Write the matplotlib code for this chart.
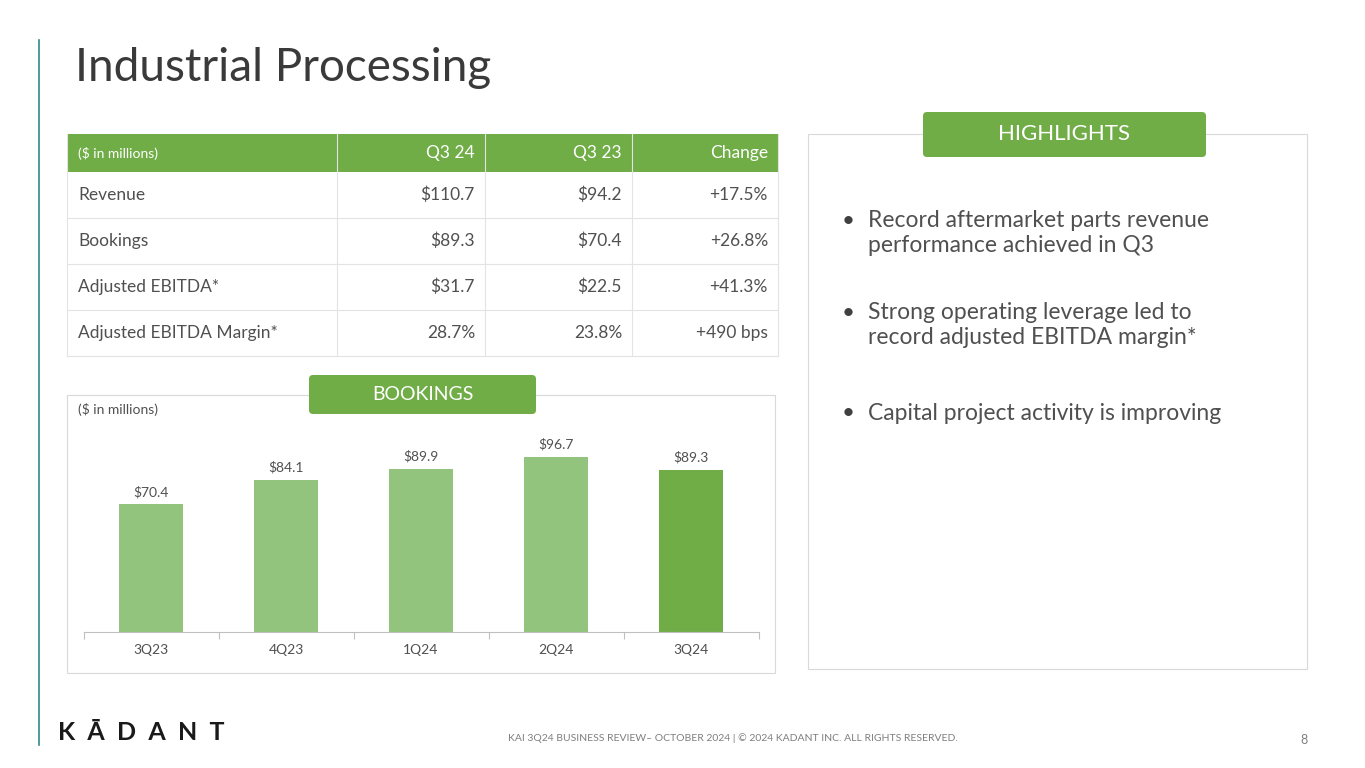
import matplotlib
matplotlib.use("Agg")
import matplotlib.pyplot as plt
from matplotlib.patches import Rectangle, FancyBboxPatch

plt.rcParams['font.family'] = ['Lato', 'DejaVu Sans']

quarters = ["3Q23", "4Q23", "1Q24", "2Q24", "3Q24"]
bookings = [70.4, 84.1, 89.9, 96.7, 89.3]
bar_colors = ["#93C47D", "#93C47D", "#93C47D", "#93C47D", "#70AD47"]

table_header = ["($ in millions)", "Q3 24", "Q3 23", "Change"]
table_rows = [
    ["Revenue", "$110.7", "$94.2", "+17.5%"],
    ["Bookings", "$89.3", "$70.4", "+26.8%"],
    ["Adjusted EBITDA*", "$31.7", "$22.5", "+41.3%"],
    ["Adjusted EBITDA Margin*", "28.7%", "23.8%", "+490 bps"],
]
highlights = [
    "Record aftermarket parts revenue\nperformance achieved in Q3",
    "Strong operating leverage led to\nrecord adjusted EBITDA margin*",
    "Capital project activity is improving",
]

W, H = 1365, 768
fig = plt.figure(figsize=(W/100, H/100), dpi=100)
bg = fig.add_axes([0, 0, 1, 1])
bg.set_xlim(0, W); bg.set_ylim(H, 0); bg.axis('off')

GREEN = "#70AD47"
GRAY = "#505050"
bg.plot([39, 39], [40, 745], color="#2E8B8B", lw=1.2)
bg.text(75, 68, "Industrial Processing", fontsize=33, color="#3A3A3A", va='center')

cols = [67, 337, 485, 632, 778]
bg.add_patch(Rectangle((67, 134), 711, 38, color=GREEN, lw=0))
for i, h in enumerate(table_header):
    if i == 0:
        bg.text(78, 153, h, fontsize=10, color="white", va='center')
    else:
        bg.text(cols[i+1]-10, 153, h, fontsize=12.5, color="white", va='center', ha='right')
for c in cols:
    bg.plot([c, c], [134, 356], color="#E3E3E3", lw=0.8)
for r, row in enumerate(table_rows):
    y0 = 172 + 46*r
    bg.plot([67, 778], [y0+46, y0+46], color="#E3E3E3", lw=0.8)
    for i, v in enumerate(row):
        if i == 0:
            bg.text(78, y0+23, v, fontsize=12.5, color=GRAY, va='center')
        else:
            bg.text(cols[i+1]-10, y0+23, v, fontsize=12.5, color=GRAY, va='center', ha='right')

bg.add_patch(Rectangle((67, 395), 708, 278, fill=False, ec="#D9D9D9", lw=0.8))
bg.add_patch(FancyBboxPatch((309, 375), 227, 39, boxstyle="round,pad=0,rounding_size=4", color=GREEN, lw=0))
bg.text(423, 394, "BOOKINGS", fontsize=14, color="white", ha='center', va='center')
bg.text(78, 410, "($ in millions)", fontsize=10, color=GRAY, va='center')

bg.add_patch(Rectangle((808, 134), 499, 535, fill=False, ec="#D9D9D9", lw=0.8))
bg.add_patch(FancyBboxPatch((923, 112), 283, 45, boxstyle="round,pad=0,rounding_size=4", color=GREEN, lw=0))
bg.text(1064, 134, "HIGHLIGHTS", fontsize=16, color="white", ha='center', va='center')
ys = [233, 325, 413]
for y, t in zip(ys, highlights):
    bg.text(842, y - (12 if "\n" in t else 0), "•", fontsize=16, color="#404040", va='center')
    bg.text(868, y, t, fontsize=16.5, color=GRAY, va='center', linespacing=1.2)

bg.text(58, 733, "K  Ā  D  A  N  T", fontsize=18, color="#1a1a1a", va='center', fontweight='bold')
bg.text(733, 738, "KAI 3Q24 BUSINESS REVIEW– OCTOBER 2024 | © 2024 KADANT INC. ALL RIGHTS RESERVED.",
        fontsize=7.5, color="#7F7F7F", ha='center', va='center')
bg.text(1308, 740, "8", fontsize=9, color="#7F7F7F", ha='right', va='center')

ax = fig.add_axes([83.5/W, 1-632/H, 675/W, 212/H])
x = list(range(len(quarters)))
ax.bar(x, bookings, width=0.48, color=bar_colors)
for xi, v in zip(x, bookings):
    ax.text(xi, v + 3.5, f"${v}", ha='center', va='bottom', fontsize=10, color=GRAY)
ax.set_xlim(-0.5, 4.5); ax.set_ylim(0, 117)
ax.set_yticks([])
for s in ['top', 'right', 'left']:
    ax.spines[s].set_visible(False)
ax.spines['bottom'].set_color("#BFBFBF")
ax.set_xticks([i - 0.5 for i in range(6)])
ax.set_xticklabels([])
ax.tick_params(axis='x', length=5, color="#BFBFBF")
for xi, q in zip(x, quarters):
    ax.text(xi, -10, q, ha='center', va='center', fontsize=10, color=GRAY)
ax.patch.set_alpha(0)

fig.savefig("out.png", dpi=100)
